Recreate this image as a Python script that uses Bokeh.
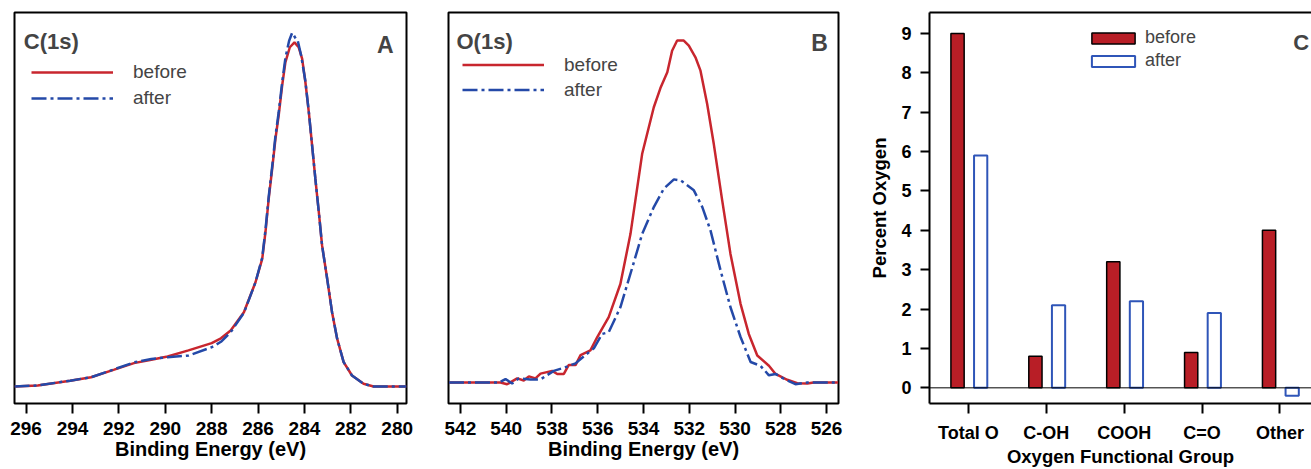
from bokeh.plotting import figure
from bokeh.layouts import row
from bokeh.models import Range1d, FixedTicker, Label, Span, LinearAxis, ColumnDataSource
from bokeh.transform import dodge
from bokeh.embed import file_html
from bokeh.resources import INLINE

# ---------------- data ----------------
# Panel A: C(1s) spectrum (binding energy eV, normalised intensity)
c1s_be_before = [296.5, 295.5, 294.1, 293.2, 292.2, 291.35, 290.6, 289.9, 289.0, 288.0,
                 287.6, 287.18, 286.61, 286.11, 285.82, 285.68, 285.54, 285.39, 285.25,
                 285.11, 284.96, 284.82, 284.63, 284.43, 284.25, 284.10, 283.96, 283.81,
                 283.67, 283.53, 283.38, 283.24, 283.02, 282.81, 282.59, 282.31, 281.95,
                 281.45, 281.02, 279.6]
c1s_before = [0.0, 0.003, 0.017, 0.027, 0.049, 0.068, 0.078, 0.087, 0.105, 0.126,
              0.140, 0.163, 0.216, 0.303, 0.371, 0.449, 0.546, 0.633, 0.720,
              0.788, 0.875, 0.943, 0.986, 1.0, 0.986, 0.953, 0.885, 0.797,
              0.701, 0.604, 0.507, 0.410, 0.313, 0.216, 0.139, 0.071, 0.032,
              0.008, 0.0, 0.0]
c1s_be_after = [296.5, 295.5, 294.1, 293.2, 292.2, 291.35, 290.6, 289.9, 289.0, 288.0,
                287.6, 287.18, 286.61, 286.11, 285.82, 285.68, 285.54, 285.39, 285.25,
                285.11, 284.96, 284.82, 284.66, 284.53, 284.38, 284.30, 284.15, 283.96,
                283.81, 283.67, 283.53, 283.38, 283.24, 283.02, 282.81, 282.59, 282.31,
                281.95, 281.45, 281.02, 279.6]
c1s_after = [0.0, 0.003, 0.017, 0.027, 0.050, 0.070, 0.080, 0.085, 0.090, 0.114,
             0.130, 0.158, 0.214, 0.303, 0.375, 0.455, 0.552, 0.640, 0.728,
             0.797, 0.884, 0.955, 1.005, 1.028, 1.012, 1.008, 0.965, 0.888,
             0.797, 0.701, 0.604, 0.507, 0.410, 0.313, 0.216, 0.139, 0.071,
             0.032, 0.008, 0.0, 0.0]
c1s_ticks = [296, 294, 292, 290, 288, 286, 284, 282, 280]

# Panel B: O(1s) spectrum
o1s_be_before = [542.5, 540.25, 539.96, 539.52, 539.23, 539.01, 538.72, 538.50, 537.99, 537.77,
                 537.48, 537.27, 536.97, 536.75, 536.32, 536.02, 535.52, 535.01, 534.57,
                 534.06, 533.55, 533.26, 532.96, 532.75, 532.53, 532.24, 532.02, 531.73,
                 531.51, 531.22, 530.93, 530.56, 530.20, 529.76, 529.40, 529.03, 528.52,
                 528.23, 527.72, 527.28, 526.84, 526.57, 525.5]
o1s_before = [0.0, 0.0, -0.005, 0.012, 0.006, 0.018, 0.012, 0.026, 0.034, 0.025,
              0.025, 0.051, 0.051, 0.080, 0.094, 0.133, 0.191, 0.288, 0.434,
              0.668, 0.805, 0.861, 0.907, 0.970, 1.0, 1.0, 0.985, 0.951,
              0.912, 0.815, 0.698, 0.532, 0.376, 0.230, 0.142, 0.079, 0.049,
              0.025, 0.008, -0.002, -0.003, 0.0, 0.0]
o1s_be_after = [542.5, 540.3, 540.03, 539.74, 539.45, 538.94, 538.50, 537.92, 537.48, 536.97,
                536.61, 536.17, 535.81, 535.52, 535.01, 534.49, 534.06, 533.55, 533.11,
                532.67, 532.38, 532.09, 531.80, 531.43, 531.07, 530.63, 530.20, 529.76,
                529.32, 528.89, 528.52, 528.23, 527.87, 527.36, 526.84, 525.5]
o1s_after = [0.0, 0.0, 0.010, -0.003, 0.012, 0.009, 0.009, 0.034, 0.043, 0.056,
             0.076, 0.100, 0.142, 0.147, 0.220, 0.336, 0.434, 0.513, 0.567,
             0.594, 0.591, 0.577, 0.562, 0.513, 0.444, 0.327, 0.220, 0.133,
             0.060, 0.049, 0.021, 0.025, 0.011, -0.005, 0.0, 0.0]
o1s_ticks = [542, 540, 538, 536, 534, 532, 530, 528, 526]

# Panel C: percent oxygen by functional group
groups = ["Total O", "C-OH", "COOH", "C=O", "Other"]
pct_before = [9.0, 0.8, 3.2, 0.9, 4.0]
pct_after = [5.9, 2.1, 2.2, 1.9, -0.2]
pct_ticks = [0, 1, 2, 3, 4, 5, 6, 7, 8, 9]

# ---------------- style ----------------
FONT = "Liberation Sans"
RED = "#c8262e"
BLUE = "#2449a8"
BAR_RED = "#b81e26"
BAR_BLUE = "#2f55b8"
H = 469


def style_xaxis(ax, label, tick_size, title_size, tick_standoff, label_standoff):
    ax.major_tick_out = 10
    ax.major_tick_in = 0
    ax.major_tick_line_width = 2
    ax.major_tick_line_color = "black"
    ax.minor_tick_line_color = None
    ax.major_label_text_font = FONT
    ax.major_label_text_font_style = "bold"
    ax.major_label_text_font_size = tick_size
    ax.major_label_text_color = "black"
    ax.major_label_standoff = tick_standoff
    ax.axis_label = label
    ax.axis_label_text_font = FONT
    ax.axis_label_text_font_style = "bold"
    ax.axis_label_text_font_size = title_size
    ax.axis_label_text_color = "black"
    ax.axis_label_standoff = label_standoff


def spectrum(width, bl, br, xr, yr, ticks, xb, yb, xa, ya, title, tpos, letter, lpos,
             legloc, pitch):
    p = figure(width=width, height=H, x_range=Range1d(*xr), y_range=Range1d(*yr),
               output_backend="svg", toolbar_location=None, y_axis_location=None,
               min_border_left=bl, min_border_right=br, min_border_top=12, min_border_bottom=66)
    p.grid.visible = False
    p.outline_line_color = "black"
    p.outline_line_width = 2
    p.outline_line_alpha = 1
    p.background_fill_color = "white"
    p.border_fill_color = "white"
    p.line(xb, yb, line_color=RED, line_width=2.5, legend_label="before")
    p.line(xa, ya, line_color=BLUE, line_width=2.5, line_dash="15 4 3 4", legend_label="after")
    ax = p.xaxis[0]
    ax.ticker = FixedTicker(ticks=ticks)
    ax.axis_line_color = None
    style_xaxis(ax, "Binding Energy (eV)", "19px", "20px", 8, 0)
    p.add_layout(Label(x=tpos[0], y=tpos[1], text=title, text_font=FONT, text_font_style="bold",
                       text_font_size="22px", text_baseline="alphabetic", text_align="left"))
    p.add_layout(Label(x=lpos[0], y=lpos[1], text=letter, text_font=FONT, text_font_style="bold",
                       text_font_size="23px", text_baseline="alphabetic", text_align="right"))
    lg = p.legend[0]
    lg.location = legloc
    lg.border_line_color = None
    lg.background_fill_alpha = 0
    lg.padding = 0
    lg.margin = 0
    lg.spacing = 0
    lg.glyph_width = 82
    lg.glyph_height = pitch
    lg.label_height = pitch
    lg.label_standoff = 20
    lg.label_text_font = FONT
    lg.label_text_font_size = "19px"
    return p


pa = spectrum(427, 14, 21, (296.5, 279.6), (-0.0494, 1.087), c1s_ticks,
              c1s_be_before, c1s_before, c1s_be_after, c1s_after,
              "C(1s)", (296.1, 1.004), "A", (280.16, 0.993), (17, 292), 26)
pb = spectrum(439, 21, 28, (542.52, 525.48), (-0.0614, 1.082), o1s_ticks,
              o1s_be_before, o1s_before, o1s_be_after, o1s_after,
              "O(1s)", (542.17, 0.998), "B", (525.94, 0.993), (14, 301), 25)

# ---------------- panel C ----------------
pc = figure(width=445, height=H, x_range=Range1d(-0.5, 4.405), y_range=Range1d(-0.398, 9.533),
            output_backend="svg", toolbar_location=None,
            min_border_left=60, min_border_right=0, min_border_top=12, min_border_bottom=66)
pc.grid.visible = False
pc.outline_line_color = None
pc.background_fill_color = "white"
pc.border_fill_color = "white"

src = ColumnDataSource(dict(x=list(range(len(groups))), before=pct_before, after=pct_after))
pc.add_layout(Span(location=0, dimension="width", line_color="black", line_width=1))
pc.vbar(x=dodge("x", -0.14), top="before", bottom=0, width=0.17, source=src,
        fill_color=BAR_RED, line_color="black", line_width=1.5, legend_label="before")
pc.vbar(x=dodge("x", 0.157), top="after", bottom=0, width=0.17, source=src,
        fill_color="white", line_color=BAR_BLUE, line_width=2, legend_label="after")

xax = pc.xaxis[0]
xax.ticker = FixedTicker(ticks=list(range(len(groups))))
xax.major_label_overrides = {i: g for i, g in enumerate(groups)}
xax.axis_line_width = 2
xax.axis_line_color = "black"
style_xaxis(xax, "Oxygen Functional Group", "18px", "18.5px", 9, 0)

yax = pc.yaxis[0]
yax.ticker = FixedTicker(ticks=pct_ticks)
yax.axis_line_width = 2
yax.axis_line_color = "black"
yax.major_tick_out = 9
yax.major_tick_in = 0
yax.major_tick_line_width = 2
yax.minor_tick_line_color = None
yax.major_label_text_font = FONT
yax.major_label_text_font_style = "bold"
yax.major_label_text_font_size = "18px"
yax.major_label_text_color = "black"
yax.major_label_standoff = 9
yax.axis_label = "Percent Oxygen"
yax.axis_label_text_font = FONT
yax.axis_label_text_font_style = "bold"
yax.axis_label_text_font_size = "18.5px"
yax.axis_label_text_color = "black"
yax.axis_label_standoff = 8

top_axis = LinearAxis(ticker=FixedTicker(ticks=[]), axis_line_width=2, axis_line_color="black",
                      major_tick_out=0, major_tick_in=0, minor_tick_out=0, minor_tick_in=0,
                      major_label_text_font_size="0px", major_label_standoff=0)
pc.add_layout(top_axis, "above")

pc.add_layout(Label(x=4.171, y=8.763, text="C", text_font=FONT, text_font_style="bold",
                    text_font_size="22px", text_baseline="alphabetic", text_align="left"))

lc = pc.legend[0]
lc.location = (157, 332)
lc.border_line_color = None
lc.background_fill_alpha = 0
lc.padding = 0
lc.margin = 0
lc.spacing = 2
lc.glyph_width = 54
lc.glyph_height = 14
lc.label_height = 14
lc.label_standoff = 5
lc.label_text_font = FONT
lc.label_text_font_size = "18px"

layout = row(pa, pb, pc, spacing=0)
open("out.html", "w").write(file_html(layout, INLINE))
